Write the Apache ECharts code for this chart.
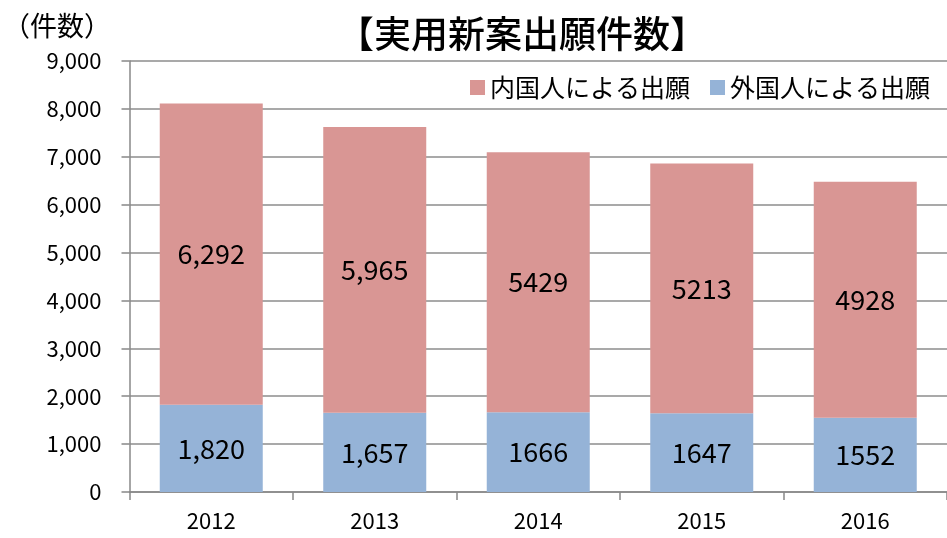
<!DOCTYPE html>
<html>
<head>
<meta charset="utf-8">
<script src="https://cdn.jsdelivr.net/npm/echarts@6/dist/echarts.min.js"></script>
<style>
html, body { margin: 0; padding: 0; background: #fff; }
#main { width: 947px; height: 538px; }
</style>
</head>
<body>
<div id="main"></div>
<script>
var years = ['2012', '2013', '2014', '2015', '2016'];
var domestic = [6292, 5965, 5429, 5213, 4928];
var foreign = [1820, 1657, 1666, 1647, 1552];
// labels as printed on the bars (some with comma, some without)
var domesticLabels = ['6,292', '5,965', '5429', '5213', '4928'];
var foreignLabels = ['1,820', '1,657', '1666', '1647', '1552'];

var font = 'Noto Sans CJK JP';
var myChart = echarts.init(document.getElementById('main'));

option = {
    backgroundColor: '#fff',
    animation: false,
    textStyle: { fontFamily: font },
    title: {
        text: '【実用新案出願件数】',
        left: 517,
        top: 10,
        textAlign: 'center',
        textStyle: { fontFamily: font, fontSize: 37, fontWeight: 500, color: '#000' }
    },
    legend: {
        right: 12,
        top: 70,
        itemWidth: 15,
        itemHeight: 15,
        itemGap: 20,
        textStyle: { fontFamily: font, fontSize: 25, color: '#000' },
        data: [
            { name: '内国人による出願', icon: 'rect' },
            { name: '外国人による出願', icon: 'rect' }
        ]
    },
    grid: { left: 129, right: 0, top: 61, bottom: 46 },
    xAxis: {
        type: 'category',
        data: years,
        axisLine: { lineStyle: { color: '#888', width: 1.5 } },
        axisTick: { show: true, length: 8, lineStyle: { color: '#888', width: 1.5 } },
        axisLabel: { fontSize: 22, color: '#000', margin: 18, fontFamily: font }
    },
    yAxis: {
        type: 'value',
        name: '（件数）',
        nameLocation: 'end',
        nameGap: 22,
        nameTextStyle: { fontSize: 27, color: '#000', fontFamily: font, align: 'center', padding: [0, 0, 0, -145] },
        min: 0,
        max: 9000,
        interval: 1000,
        axisLine: { show: true, lineStyle: { color: '#888', width: 1.5 } },
        axisTick: { show: true, length: 8, lineStyle: { color: '#888', width: 1.5 } },
        axisLabel: {
            fontSize: 22, color: '#000', margin: 28, fontFamily: font,
            formatter: function (v) { return v.toLocaleString('en-US'); }
        },
        splitLine: { lineStyle: { color: '#8c8c8c', width: 1.5 } }
    },
    series: [
        {
            name: '外国人による出願',
            type: 'bar',
            stack: 'total',
            barWidth: '63%',
            data: foreign,
            itemStyle: { color: '#95B3D7' },
            label: {
                show: true, position: 'inside', fontSize: 27, color: '#000', fontFamily: font,
                formatter: function (p) { return foreignLabels[p.dataIndex]; }
            }
        },
        {
            name: '内国人による出願',
            type: 'bar',
            stack: 'total',
            barWidth: '63%',
            data: domestic,
            itemStyle: { color: '#D99694' },
            label: {
                show: true, position: 'inside', fontSize: 27, color: '#000', fontFamily: font,
                formatter: function (p) { return domesticLabels[p.dataIndex]; }
            }
        }
    ]
};

myChart.setOption(option);
</script>
</body>
</html>
